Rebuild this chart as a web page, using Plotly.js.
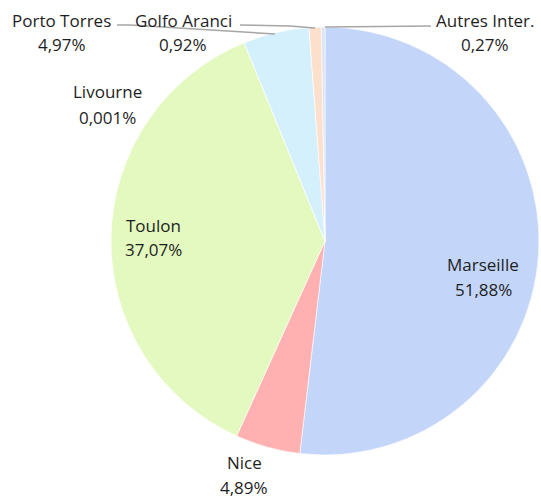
<!DOCTYPE html>
<html>
<head>
<meta charset="utf-8">
<script src="https://cdn.plot.ly/plotly-3.0.1.min.js"></script>
<style>html,body{margin:0;padding:0;background:#fff;}#chart{width:541px;height:499px;}</style>
</head>
<body>
<div id="chart"></div>
<script>
// Data
var ports = ["Marseille", "Nice", "Toulon", "Livourne", "Porto Torres", "Golfo Aranci", "Autres Inter."];
var shares = [51.88, 4.89, 37.07, 0.001, 4.97, 0.92, 0.27];
var sliceColors = ["#c3d6fa", "#ffb1b1", "#e3f9c0", "#e8f7d0", "#d3f0fc", "#fde0cc", "#d9e4f6"];

var W = 541, H = 499;
function px(x) { return x / W; }
function py(y) { return 1 - y / H; }

// label placement (pixel centres of first line) – layout only
var labelPos = [[483, 264], [244, 462], [153, 225], [107, 92], [62, 20], [183, 20], [485, 20]];
var lineGap = 25;

function fmt(v) { return String(v).replace('.', ',') + '%'; }

var font = {family: '"Open Sans", Lato, sans-serif', size: 17, color: '#1e1e1e'};
var annotations = [];
ports.forEach(function (p, i) {
  [p, fmt(shares[i])].forEach(function (t, k) {
    annotations.push({
      x: px(labelPos[i][0]), y: py(labelPos[i][1] + k * lineGap),
      xref: 'paper', yref: 'paper', xanchor: 'center', yanchor: 'middle',
      showarrow: false, align: 'center', text: t, font: font, borderpad: 0
    });
  });
});

function pathOf(pts) {
  return pts.map(function (p, i) { return (i ? 'L' : 'M') + px(p[0]) + ',' + py(p[1]); }).join(' ');
}
var leaders = [
  [[117, 25], [130, 25], [275, 34]],
  [[240, 25], [290, 26], [315, 28]],
  [[431, 26], [325, 27]]
];
var shapes = leaders.map(function (l) {
  return {type: 'path', xref: 'paper', yref: 'paper', path: pathOf(l),
          line: {color: '#a6a6a6', width: 1.5}};
});

var cx = 325, cy = 241, r = 214;
var trace = {
  type: 'pie',
  labels: ports,
  values: shares,
  sort: false,
  direction: 'clockwise',
  rotation: 0,
  textinfo: 'none',
  hoverinfo: 'label+percent',
  marker: {colors: sliceColors, line: {color: '#ffffff', width: 0.6}},
  domain: {x: [px(cx - r), px(cx + r)], y: [py(cy + r), py(cy - r)]},
  showlegend: false
};

Plotly.newPlot('chart', [trace], {
  width: W, height: H,
  margin: {l: 0, r: 0, t: 0, b: 0},
  paper_bgcolor: '#ffffff',
  showlegend: false,
  annotations: annotations,
  shapes: shapes
}, {displayModeBar: false, staticPlot: true});
</script>
</body>
</html>
